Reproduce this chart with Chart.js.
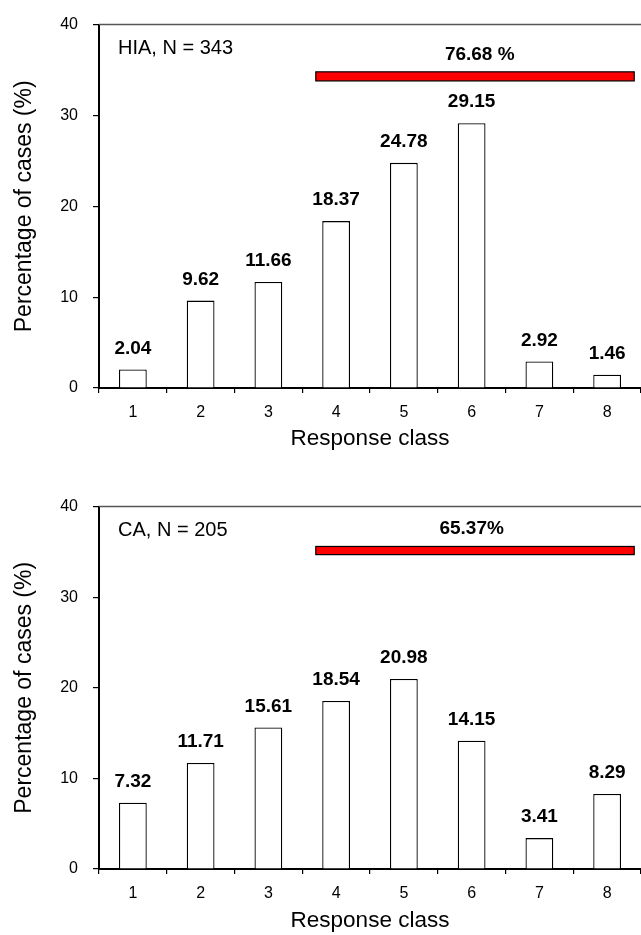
<!DOCTYPE html>
<html><head><meta charset="utf-8">
<script src="https://cdn.jsdelivr.net/npm/chart.js@4/dist/chart.umd.min.js"></script>
<style>
html,body{margin:0;padding:0;background:#fff;overflow:hidden;width:641px;height:935px}
.wrap{position:absolute;left:0;width:641px}
#w1{top:0;height:482px}
#w2{top:482px;height:453px}
</style></head><body>
<div class="wrap" id="w1"><canvas id="c1"></canvas></div>
<div class="wrap" id="w2"><canvas id="c2"></canvas></div>
<script>
// ---- data ----
const classes = ['1','2','3','4','5','6','7','8'];
const hiaValues = [2.04, 9.62, 11.66, 18.37, 24.78, 29.15, 2.92, 1.46];
const caValues  = [7.32, 11.71, 15.61, 18.54, 20.98, 14.15, 3.41, 8.29];
const yMin = 0, yMax = 40, yStep = 10;
const hiaNote = 'HIA, N = 343';
const caNote  = 'CA, N = 205';
// red span bars: x range in response-class units, y range in percent
const hiaSpanX = [3.7, 8.4];
const hiaSpanY = [33.8, 34.8];
const hiaSpanText = '76.68 %';
const hiaSpanTextPos = [6.12, 36.7];
const caSpanX = [3.7, 8.4];
const caSpanY = [34.7, 35.6];
const caSpanText = '65.37%';
const caSpanTextPos = [6.0, 37.6];

const FONT = "'Liberation Sans', Arial, Helvetica, sans-serif";

function makeChart(id, values, note, spanX, spanY, spanText, spanTextPos, xHeight, titlePad) {
  const decor = {
    id: 'decor_' + id,
    afterDraw(chart) {
      const ctx = chart.ctx;
      const xs = chart.scales.x, ys = chart.scales.y;
      const ca = chart.chartArea;
      const px = v => xs.getPixelForValue(v - 1);
      ctx.save();
      // top frame line
      ctx.strokeStyle = '#555';
      ctx.lineWidth = 1.5;
      ctx.beginPath();
      ctx.moveTo(ca.left, ca.top);
      ctx.lineTo(ca.right, ca.top);
      ctx.stroke();
      // red span bar
      const x0 = px(spanX[0]), x1 = px(spanX[1]);
      const y0 = ys.getPixelForValue(spanY[1]), y1 = ys.getPixelForValue(spanY[0]);
      ctx.fillStyle = '#ff0000';
      ctx.fillRect(x0, y0, x1 - x0, y1 - y0);
      ctx.strokeStyle = '#000';
      ctx.lineWidth = 1.2;
      ctx.strokeRect(x0, y0, x1 - x0, y1 - y0);
      // span text
      ctx.fillStyle = '#000';
      ctx.textAlign = 'center';
      ctx.textBaseline = 'middle';
      ctx.font = 'bold 19px ' + FONT;
      ctx.fillText(spanText, px(spanTextPos[0]), ys.getPixelForValue(spanTextPos[1]));
      // value labels
      const meta = chart.getDatasetMeta(0);
      meta.data.forEach((bar, i) => {
        ctx.fillText(values[i].toFixed(2), bar.x, bar.y - 21);
      });
      // note
      ctx.textAlign = 'left';
      ctx.font = '20px ' + FONT;
      ctx.fillText(note, ca.left + 19, ca.top + 24);
      ctx.restore();
    }
  };
  return new Chart(document.getElementById(id), {
    type: 'bar',
    data: {
      labels: classes,
      datasets: [{
        data: values,
        backgroundColor: '#ffffff',
        borderColor: '#000000',
        borderWidth: 1.3,
        barPercentage: 0.41,
        categoryPercentage: 1
      }]
    },
    options: {
      responsive: true,
      maintainAspectRatio: false,
      animation: false,
      devicePixelRatio: 1,
      layout: { padding: { top: 19, left: 0, right: 0, bottom: 0 } },
      plugins: { legend: { display: false }, tooltip: { enabled: false } },
      scales: {
        x: {
          offset: true,
          grid: { display: true, drawOnChartArea: false, drawTicks: true, tickLength: 5, color: '#000', lineWidth: 1.2, offset: true },
          border: { display: true, color: '#000', width: 2 },
          ticks: { color: '#000', font: { family: FONT, size: 16 }, padding: 10, maxRotation: 0 },
          title: { display: true, text: 'Response class', color: '#000', font: { family: FONT, size: 22.5 }, padding: { top: 0, bottom: titlePad } },
          afterFit(s) { s.height = xHeight; }
        },
        y: {
          min: yMin, max: yMax,
          ticks: { stepSize: yStep, color: '#000', font: { family: FONT, size: 16 }, padding: 15 },
          grid: { display: true, drawOnChartArea: false, drawTicks: true, tickLength: 6, color: '#000', lineWidth: 1.2 },
          border: { display: true, color: '#000', width: 2 },
          title: { display: true, text: 'Percentage of cases (%)', color: '#000', font: { family: FONT, size: 23 }, padding: { top: 11, bottom: 0 } },
          afterFit(s) { s.width = 99; }
        }
      }
    },
    plugins: [decor]
  });
}

makeChart('c1', hiaValues, hiaNote, hiaSpanX, hiaSpanY, hiaSpanText, hiaSpanTextPos, 94, 29.5);
makeChart('c2', caValues, caNote, caSpanX, caSpanY, caSpanText, caSpanTextPos, 66, 0.5);
</script>
</body></html>
